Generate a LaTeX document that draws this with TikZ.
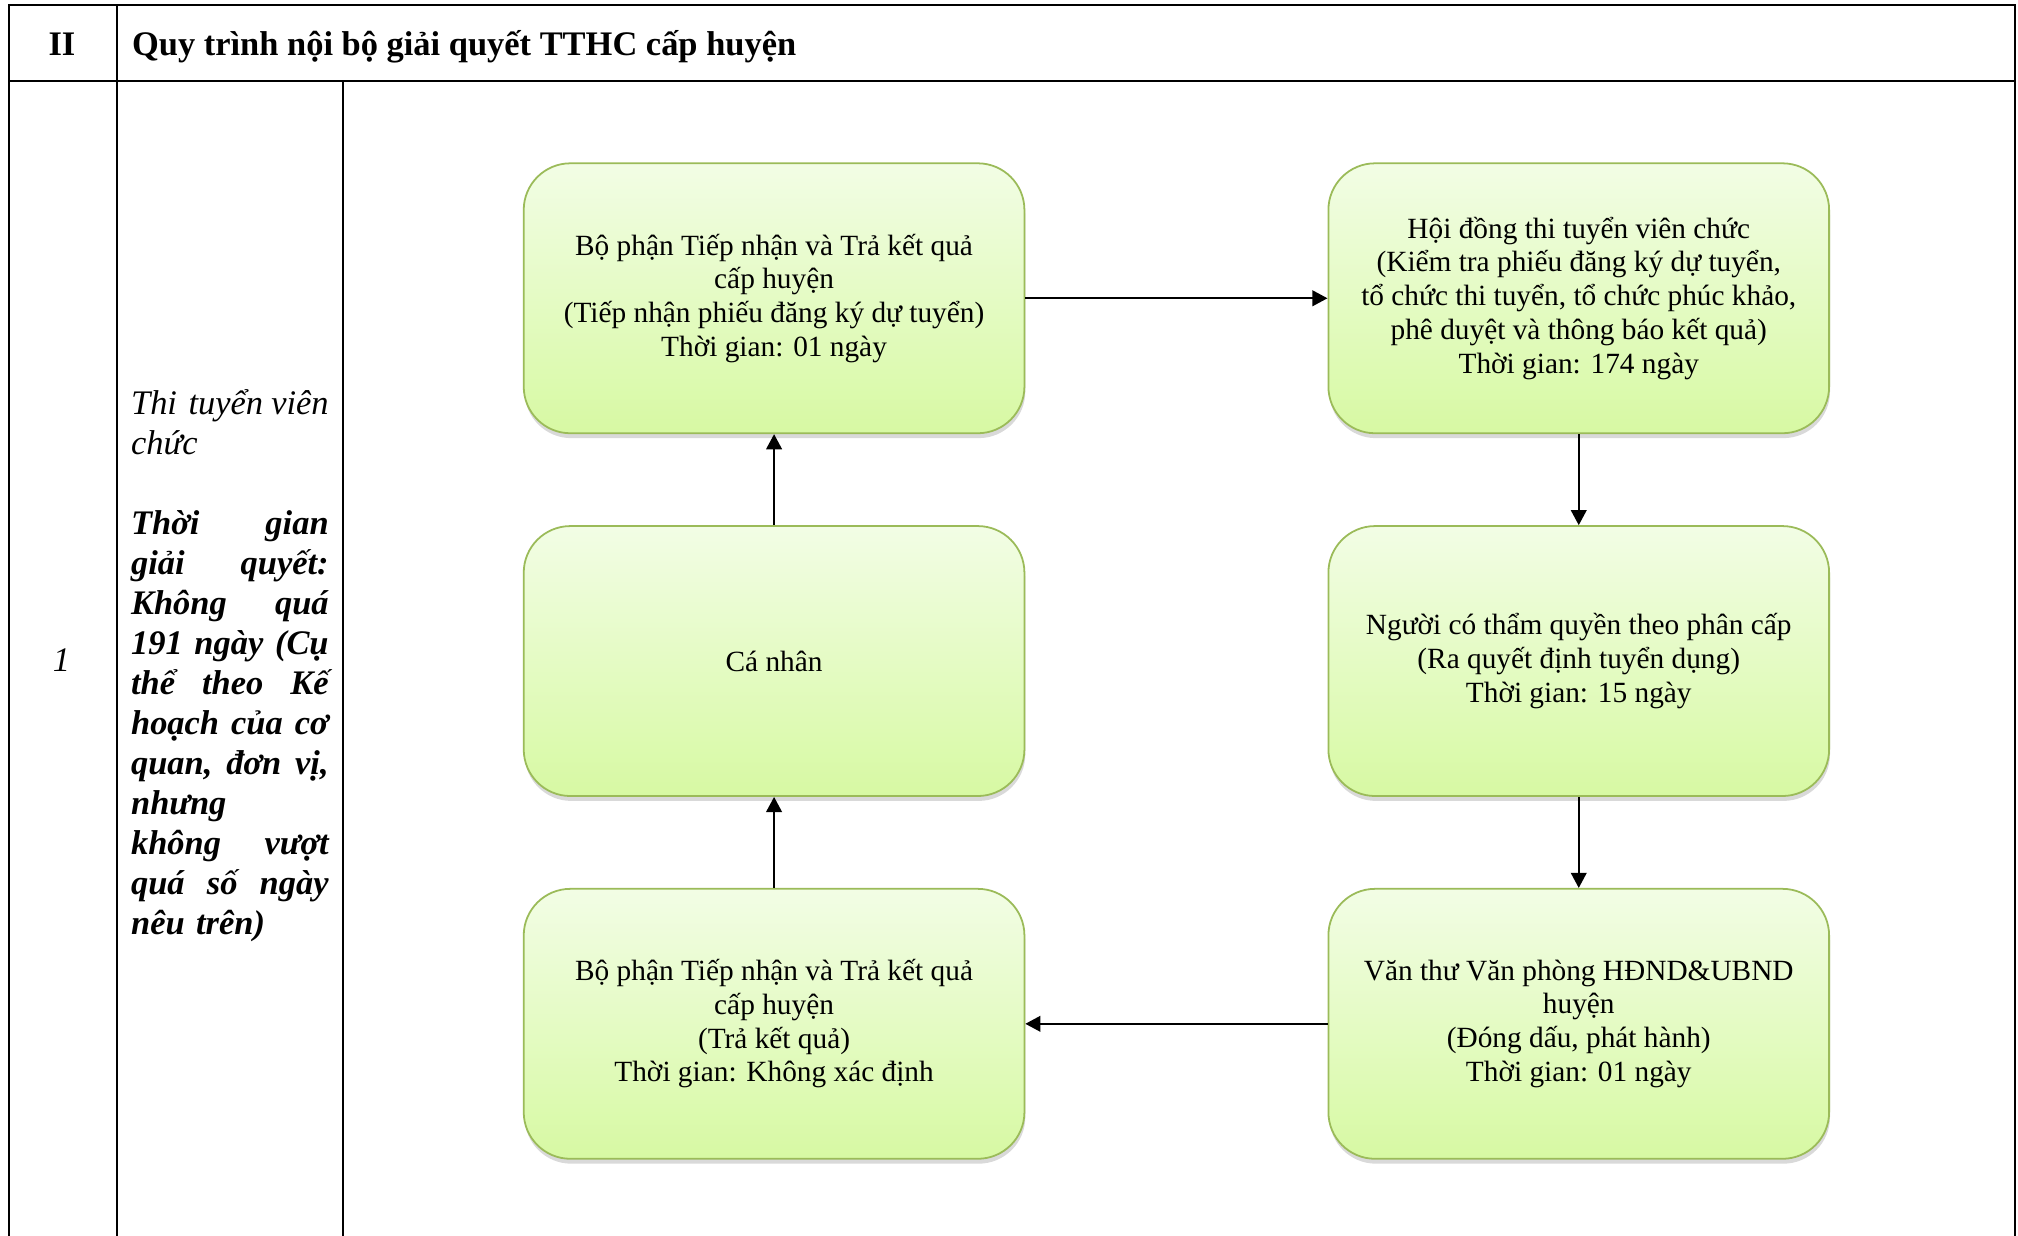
\documentclass[tikz,border=0pt]{standalone}
\usepackage{fontspec}
\setmainfont{Liberation Serif}
\usetikzlibrary{positioning,shadows,arrows.meta}
\definecolor{qttop}{HTML}{F2FDE5}
\definecolor{qtbot}{HTML}{D7F9A3}
\definecolor{qtedge}{HTML}{9BBB59}
\tikzset{
  node distance=1.44cm and 4.78cm,
  grid_line/.style = {line width=0.9pt},
  head_text/.style = {inner sep=0pt, font=\fontsize{15.5}{18}\selectfont\bfseries},
  side_text/.style = {inner sep=0pt, font=\fontsize{15.5}{18}\selectfont\itshape},
  qt_box/.style = {rectangle, rounded corners=21pt, draw=qtedge, line width=0.8pt,
    top color=qttop, bottom color=qtbot, minimum width=7.92cm, minimum height=4.27cm,
    align=center, inner sep=2pt, font=\fontsize{13.2}{15.2}\selectfont,
    drop shadow={shadow xshift=0.4pt, shadow yshift=-2.2pt, opacity=0.3}},
  qt_arrow/.style = {-{Triangle[length=6.8pt,width=7pt]}, line width=1pt}
}
\begin{document}
\begin{tikzpicture}
\useasboundingbox (0,0) rectangle (31.92,-19.545);
\draw[grid_line] (0.143,-19.545) |- (31.88,-0.082) -- (31.88,-19.545);
\draw[grid_line] (0.143,-1.276) -- (31.88,-1.276);
\draw[grid_line] (1.848,-0.082) -- (1.848,-19.545);
\draw[grid_line] (5.423,-1.276) -- (5.423,-19.545);
\node[head_text, anchor=base] (so_muc) at (0.98,-0.874) {II};
\node[head_text, anchor=base west] (tieu_de) at (2.083,-0.874) {Quy trình nội bộ giải quyết TTHC cấp huyện};
\node[side_text] (stt) at (0.974,-10.449) {1};
\node[side_text, text width=88.9pt, align=left] (thu_tuc) at (3.636,-10.53)
  {Thi tuyển\hfill viên\\ chức\\[18pt]
   {\bfseries Thời\hfill gian\\ giải\hfill quyết:\\ Không\hfill quá\\
   191\hfill ngày\hfill (Cụ\\ thể\hfill theo\hfill Kế\\ hoạch\hfill của\hfill cơ\\
   quan,\hfill đơn\hfill vị,\\ nhưng\\ không\hfill vượt\\ quá\hfill số\hfill ngày\\ nêu trên)}};
\node[qt_box] (tiep_nhan) at (12.244,-4.718)
  {Bộ phận Tiếp nhận và Trả kết quả\\ cấp huyện\\ (Tiếp nhận phiếu đăng ký dự tuyển)\\ Thời gian: 01 ngày};
\node[qt_box, right=of tiep_nhan] (hoi_dong)
  {Hội đồng thi tuyển viên chức\\ (Kiểm tra phiếu đăng ký dự tuyển,\\ tổ chức thi tuyển, tổ chức phúc khảo,\\ phê duyệt và thông báo kết quả)\\ Thời gian: 174 ngày};
\node[qt_box, below=of hoi_dong] (quyet_dinh)
  {Người có thẩm quyền theo phân cấp\\ (Ra quyết định tuyển dụng)\\ Thời gian: 15 ngày};
\node[qt_box, below=of quyet_dinh] (van_thu)
  {Văn thư Văn phòng HĐND\&UBND\\ huyện\\ (Đóng dấu, phát hành)\\ Thời gian: 01 ngày};
\node[qt_box, below=of tiep_nhan] (ca_nhan) {Cá nhân};
\node[qt_box, below=of ca_nhan] (tra_kq)
  {Bộ phận Tiếp nhận và Trả kết quả\\ cấp huyện\\ (Trả kết quả)\\ Thời gian: Không xác định};
\draw[qt_arrow] (tiep_nhan) -- (hoi_dong);
\draw[qt_arrow] (hoi_dong) -- (quyet_dinh);
\draw[qt_arrow] (quyet_dinh) -- (van_thu);
\draw[qt_arrow] (van_thu) -- (tra_kq);
\draw[qt_arrow] (tra_kq) -- (ca_nhan);
\draw[qt_arrow] (ca_nhan) -- (tiep_nhan);
\end{tikzpicture}
\end{document}
